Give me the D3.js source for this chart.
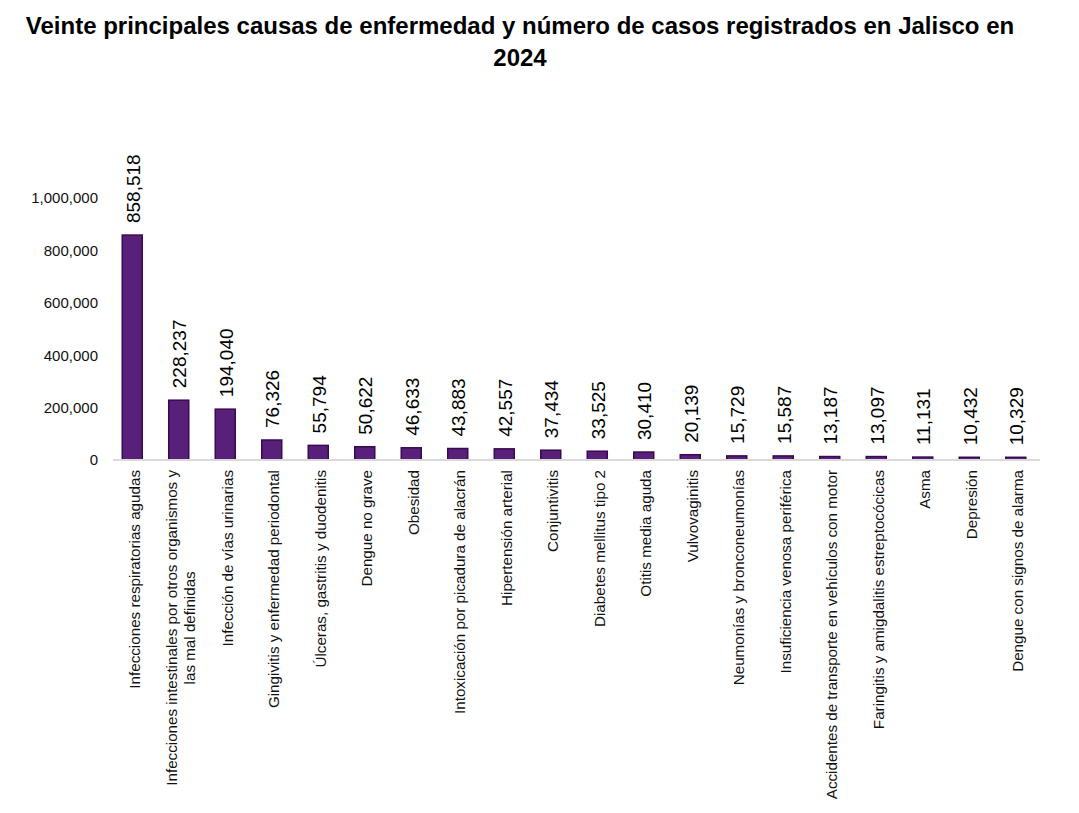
<!DOCTYPE html>
<html>
<head>
<meta charset="utf-8">
<script src="https://cdn.jsdelivr.net/npm/d3@7"></script>
<style>
	body { margin: 0; background: #fff; }
	text { font-family: "Liberation Sans", Arial, sans-serif; }
</style>
</head>
<body>
<svg id="chart"></svg>
<script>
'use strict'

// categories (rotated labels, "\n" = line break)
var causas = [
	"Infecciones respiratorias agudas",
	"Infecciones intestinales por otros organismos y\nlas mal definidas",
	"Infección de vías urinarias",
	"Gingivitis y enfermedad periodontal",
	"Úlceras, gastritis y duodenitis",
	"Dengue no grave",
	"Obesidad",
	"Intoxicación por picadura de alacrán",
	"Hipertensión arterial",
	"Conjuntivitis",
	"Diabetes mellitus tipo 2",
	"Otitis media aguda",
	"Vulvovaginitis",
	"Neumonías y bronconeumonías",
	"Insuficiencia venosa periférica",
	"Accidentes de transporte en vehículos con motor",
	"Faringitis y amigdalitis estreptocócicas",
	"Asma",
	"Depresión",
	"Dengue con signos de alarma"
];

var casos = [858518, 228237, 194040, 76326, 55794, 50622, 46633, 43883, 42557, 37434,
	33525, 30410, 20139, 15729, 15587, 13187, 13097, 11131, 10432, 10329];

var yTicks = [0, 200000, 400000, 600000, 800000, 1000000];

var titleLines = [
	"Veinte principales causas de enfermedad y número de casos registrados en Jalisco en",
	"2024"
];

var WIDTH = 1079,
	HEIGHT = 813;

var barFill = "#59207a",
	barStroke = "#380a52",
	axisColor = "#d9d9d9";

var svg = d3.select("#chart")
	.attr("width", WIDTH)
	.attr("height", HEIGHT);

// title
svg.append("g")
	.selectAll("text")
	.data(titleLines)
	.join("text")
	.attr("x", 520)
	.attr("y", function(d, i) { return 34 + i * 32 })
	.attr("text-anchor", "middle")
	.style("font-size", "24px")
	.style("font-weight", "bold")
	.style("fill", "#000")
	.text(function(d) { return d });

var x = d3.scaleBand()
	.domain(causas)
	.range([109, 1039])
	.paddingInner(0.57)
	.paddingOuter(0.285);

var y = d3.scaleLinear()
	.domain([0, 1000000])
	.range([460, 198]);

var data = causas.map(function(c, i) { return { causa: c, casos: casos[i] } });

// y axis, labels only
var yAxis = svg.append("g")
	.attr("transform", "translate(101,0)")
	.call(d3.axisLeft(y).tickValues(yTicks).tickFormat(d3.format(",")).tickSize(0).tickPadding(3));
yAxis.select(".domain").remove();
yAxis.selectAll("text")
	.style("font-family", "Liberation Sans, Arial, sans-serif")
	.style("font-size", "15px")
	.style("fill", "#111");

// bars
svg.append("g")
	.selectAll("rect")
	.data(data)
	.join("rect")
	.attr("x", function(d) { return x(d.causa) })
	.attr("y", function(d) { return y(d.casos) })
	.attr("width", x.bandwidth())
	.attr("height", function(d) { return y(0) - y(d.casos) })
	.style("fill", barFill)
	.style("stroke", barStroke)
	.style("stroke-width", 1.5);

// x axis line
var xAxis = svg.append("g")
	.attr("transform", "translate(0," + y(0) + ")")
	.call(d3.axisBottom(x).tickSize(0).tickFormat(""));
xAxis.select(".domain")
	.attr("d", "M113,0H1040")
	.style("stroke", axisColor)
	.style("stroke-width", 2);

// category labels, rotated
var catLabels = svg.append("g")
	.selectAll("text")
	.data(data)
	.join("text")
	.attr("transform", function(d) {
		return "translate(" + (x(d.causa) + x.bandwidth() / 2 + 2) + ",470) rotate(-90)"
	})
	.attr("text-anchor", "end")
	.style("font-size", "15.2px")
	.style("fill", "#111");

catLabels.each(function(d) {
	var lines = d.causa.split("\n");
	var sel = d3.select(this);
	lines.forEach(function(line, i) {
		sel.append("tspan")
			.attr("x", 0)
			.attr("y", (i - (lines.length - 1) / 2) * 18)
			.attr("dy", "0.35em")
			.text(line);
	});
	// multi-line labels: center the lines on each other
	if (lines.length > 1) {
		var tspans = sel.selectAll("tspan").nodes();
		var widths = tspans.map(function(t) { return t.getComputedTextLength() });
		var maxW = d3.max(widths);
		tspans.forEach(function(t, i) {
			d3.select(t).attr("x", -(maxW - widths[i]) / 2);
		});
	}
});

// value labels
svg.append("g")
	.selectAll("text")
	.data(data)
	.join("text")
	.attr("transform", function(d) {
		return "translate(" + (x(d.causa) + x.bandwidth() / 2 + 1) + "," + (y(d.casos) - 12) + ") rotate(-90)"
	})
	.attr("dy", "0.35em")
	.attr("text-anchor", "start")
	.style("font-size", "19px")
	.style("fill", "#000")
	.text(function(d) { return d3.format(",")(d.casos) });
</script>
</body>
</html>
